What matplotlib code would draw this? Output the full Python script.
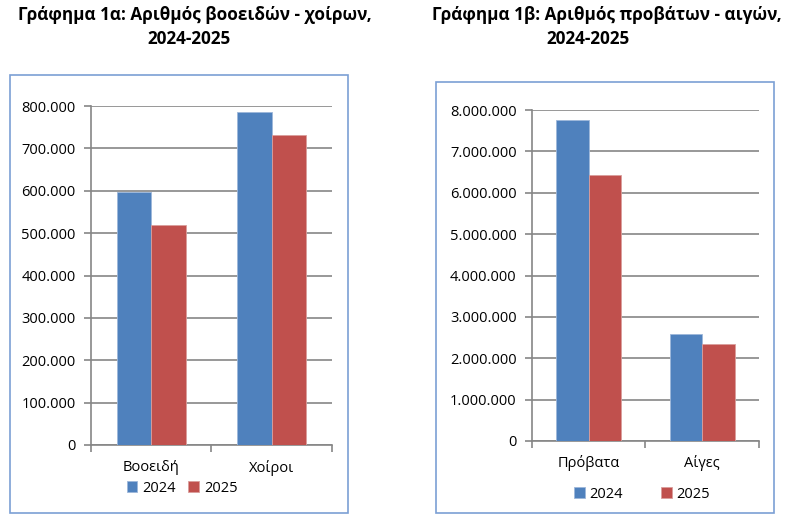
import matplotlib.pyplot as plt
import matplotlib.patches as mpatches
from matplotlib.ticker import FuncFormatter, FixedLocator
import numpy as np

plt.rcParams['font.family'] = ['Open Sans', 'DejaVu Sans']

# data
years = ['2024', '2025']
cats_a = ['Βοοειδή', 'Χοίροι']
vals_a_2024 = [596000, 787000]
vals_a_2025 = [520000, 731000]

cats_b = ['Πρόβατα', 'Αίγες']
vals_b_2024 = [7770000, 2580000]
vals_b_2025 = [6440000, 2345000]

title_a = 'Γράφημα 1α: Αριθμός βοοειδών - χοίρων,'
title_b = 'Γράφημα 1β: Αριθμός προβάτων - αιγών,'
sub = '2024-2025'

blue = '#4F81BD'
red = '#C0504D'
grid_col = '#868686'
box_col = '#7BA0D4'

W, H = 812, 532
fig = plt.figure(figsize=(W / 100, H / 100), dpi=100)


def px_axes(x0, y0, x1, y1):
    # pixel box (from top-left) -> figure axes
    return fig.add_axes([x0 / W, 1 - y1 / H, (x1 - x0) / W, (y1 - y0) / H])


def dots(v, pos):
    return '{:,.0f}'.format(v).replace(',', '.')


def draw(ax, cats, v1, v2, ymax, step, pad):
    x = np.arange(len(cats))
    bw = 0.285
    ax.bar(x - bw / 2, v1, bw, color=blue, edgecolor='#9DB7DA', linewidth=0.6, zorder=3, label=years[0])
    ax.bar(x + bw / 2, v2, bw, color=red, edgecolor='#DA9E9C', linewidth=0.6, zorder=3, label=years[1])
    ax.set_xlim(-0.5, len(cats) - 0.5)
    ax.set_ylim(0, ymax)
    ax.yaxis.set_major_locator(FixedLocator(np.arange(0, ymax + 1, step)))
    ax.yaxis.set_major_formatter(FuncFormatter(dots))
    ax.grid(axis='y', color=grid_col, linewidth=1.2, zorder=0)
    ax.set_xticks(x)
    ax.set_xticklabels(cats, fontsize=10.5)
    ax.set_xticks(np.arange(-0.5, len(cats)), minor=True)
    ax.tick_params(axis='x', which='major', length=0, pad=pad)
    ax.tick_params(axis='x', which='minor', length=5, color=grid_col, width=1.2, direction='out')
    ax.tick_params(axis='y', length=5, color=grid_col, width=1.2, labelsize=10.5, pad=6)
    for s in ['top', 'right']:
        ax.spines[s].set_visible(False)
    for s in ['left', 'bottom']:
        ax.spines[s].set_color(grid_col)
        ax.spines[s].set_linewidth(1.2)


# chart frames
fig.patches.append(mpatches.Rectangle((10 / W, 1 - 513 / H), 338 / W, 438 / H,
                                      transform=fig.transFigure, fill=False,
                                      edgecolor=box_col, linewidth=1.2))
fig.patches.append(mpatches.Rectangle((436 / W, 1 - 513 / H), 338 / W, 431 / H,
                                      transform=fig.transFigure, fill=False,
                                      edgecolor=box_col, linewidth=1.2))

ax1 = px_axes(91, 106, 332, 445)
draw(ax1, cats_a, vals_a_2024, vals_a_2025, 800000, 100000, 11)
ax1.legend(loc='center', bbox_to_anchor=(182 / W, 1 - 488 / H), bbox_transform=fig.transFigure,
           ncol=2, frameon=False, fontsize=10.5, handlelength=0.75, handleheight=0.75,
           handletextpad=0.3, columnspacing=0.9, borderpad=0)

ax2 = px_axes(532, 110, 759, 441)
draw(ax2, cats_b, vals_b_2024, vals_b_2025, 8000000, 1000000, 10)
ax2.legend(loc='center', bbox_to_anchor=(642 / W, 1 - 494 / H), bbox_transform=fig.transFigure,
           ncol=2, frameon=False, fontsize=10.5, handlelength=0.75, handleheight=0.75,
           handletextpad=0.3, columnspacing=2.6, borderpad=0)

fig.text(195 / W, 1 - 15 / H, title_a, ha='center', va='center', fontsize=12.3, fontweight='bold')
fig.text(189 / W, 1 - 39 / H, sub, ha='center', va='center', fontsize=12.3, fontweight='bold')
fig.text(607 / W, 1 - 15 / H, title_b, ha='center', va='center', fontsize=12.3, fontweight='bold')
fig.text(588 / W, 1 - 39 / H, sub, ha='center', va='center', fontsize=12.3, fontweight='bold')

fig.savefig('out.png', dpi=100)
